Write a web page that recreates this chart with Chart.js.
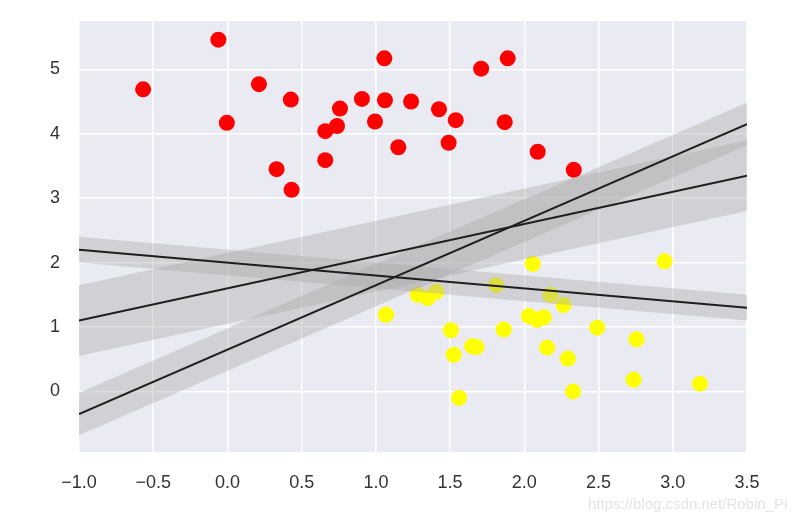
<!DOCTYPE html>
<html>
<head>
<meta charset="utf-8">
<script src="https://cdn.jsdelivr.net/npm/chart.js@4/dist/chart.umd.min.js"></script>
<style>
  body { margin: 0; background: #fff; }
  #wrap { position: relative; width: 808px; height: 522px; }
  #watermark {
    position: absolute; left: 588px; top: 495px;
    font-family: "Liberation Sans", Arial, sans-serif; font-size: 15px;
    color: #e4e4e4; white-space: nowrap;
  }
</style>
</head>
<body>
<div id="wrap">
  <canvas id="chart" width="808" height="522"></canvas>
  <div id="watermark">https://blog.csdn.net/Robin_Pi</div>
</div>
<script>
// class 0 (red) points
const redX = [-0.568, -0.061, -0.004, 0.212, 0.427, 0.331, 0.432, 0.659, 0.659, 0.738, 0.758, 0.906, 0.994,
              1.057, 1.061, 1.151, 1.237, 1.425, 1.538, 1.490, 1.709, 1.888, 1.868, 2.090, 2.333];
const redY = [4.69, 5.46, 4.17, 4.77, 4.53, 3.45, 3.13, 3.59, 4.04, 4.12, 4.39, 4.54, 4.19,
              5.17, 4.52, 3.79, 4.50, 4.38, 4.21, 3.86, 5.01, 5.17, 4.18, 3.72, 3.44];

// class 1 (yellow) points
const yellowX = [2.057, 2.945, 1.281, 1.349, 1.407, 1.810, 2.176, 2.264, 2.030, 2.086, 2.131, 1.506, 1.861,
                 2.491, 2.756, 1.648, 1.677, 1.524, 2.154, 2.293, 2.736, 3.183, 2.329, 1.560, 1.068];
const yellowY = [1.98, 2.02, 1.50, 1.45, 1.55, 1.65, 1.50, 1.34, 1.17, 1.11, 1.15, 0.95, 0.96,
                 0.99, 0.81, 0.70, 0.69, 0.57, 0.68, 0.51, 0.18, 0.12, 0.00, -0.10, 1.19];

// candidate separating lines, end points at x = -1 and x = 3.5
const lineX = [-1, 3.5];
const line1 = [-0.35, 4.15];
const band1Upper = [-0.02, 4.48];
const band1Lower = [-0.68, 3.82];
const line2 = [1.1, 3.35];
const band2Upper = [1.65, 3.9];
const band2Lower = [0.55, 2.8];
const line3 = [2.2, 1.3];
const band3Upper = [2.4, 1.5];
const band3Lower = [2.0, 1.1];

const xTicks = [-1.0, -0.5, 0.0, 0.5, 1.0, 1.5, 2.0, 2.5, 3.0, 3.5];
const yTicks = [0, 1, 2, 3, 4, 5];

const toPts = (xs, ys) => xs.map((x, i) => ({ x: x, y: ys[i] }));

const bandColor = 'rgba(170,170,170,0.4)';
const lineColor = '#1e1e1e';

function bandPair(upper, lower) {
    return [
        { type: 'line', data: toPts(lineX, upper), borderWidth: 0, pointRadius: 0,
          backgroundColor: bandColor, fill: '+1', order: 1 },
        { type: 'line', data: toPts(lineX, lower), borderWidth: 0, pointRadius: 0,
          backgroundColor: bandColor, fill: false, order: 1 }
    ];
}

function lineSet(ys) {
    return { type: 'line', data: toPts(lineX, ys), borderColor: lineColor, borderWidth: 2,
             pointRadius: 0, fill: false, order: 0 };
}

const plotBg = {
    id: 'plotBg',
    beforeDraw(chart) {
        const { ctx, chartArea: a } = chart;
        ctx.save();
        ctx.fillStyle = '#EAEAF2';
        ctx.fillRect(a.left, a.top, a.right - a.left, a.bottom - a.top);
        ctx.restore();
    }
};

const fmt = v => {
    const s = Math.abs(v).toFixed(1);
    return v < 0 ? '\u2212' + s : s;
};

new Chart(document.getElementById('chart'), {
    type: 'scatter',
    data: {
        datasets: [
            lineSet(line1),
            lineSet(line2),
            lineSet(line3),
            ...bandPair(band1Upper, band1Lower),
            ...bandPair(band2Upper, band2Lower),
            ...bandPair(band3Upper, band3Lower),
            { data: toPts(redX, redY), backgroundColor: '#ff0000', borderWidth: 0, pointRadius: 8, order: 2 },
            { data: toPts(yellowX, yellowY), backgroundColor: '#ffff00', borderWidth: 0, pointRadius: 8, order: 2 }
        ]
    },
    options: {
        responsive: false,
        animation: false,
        layout: { padding: { top: 21, right: 61, left: 0, bottom: 0 } },
        plugins: { legend: { display: false }, tooltip: { enabled: false } },
        scales: {
            x: {
                type: 'linear', min: -1, max: 3.5,
                afterBuildTicks: s => { s.ticks = xTicks.map(v => ({ value: v })); },
                afterFit: s => { s.height = 70; s.paddingLeft = 0; s.paddingRight = 0; },
                border: { display: false },
                grid: { color: '#ffffff', lineWidth: 1.5, drawTicks: false },
                ticks: { color: '#333333', padding: 20, maxRotation: 0,
                         font: { family: 'Liberation Sans', size: 18 }, callback: v => fmt(v) }
            },
            y: {
                type: 'linear', min: -0.94, max: 5.75,
                afterBuildTicks: s => { s.ticks = yTicks.map(v => ({ value: v })); },
                afterFit: s => { s.width = 79; s.paddingTop = 0; s.paddingBottom = 0; },
                border: { display: false },
                grid: { color: '#ffffff', lineWidth: 1.5, drawTicks: false },
                ticks: { color: '#333333', padding: 19,
                         font: { family: 'Liberation Sans', size: 18 }, callback: v => String(v) }
            }
        }
    },
    plugins: [plotBg]
});
</script>
</body>
</html>
